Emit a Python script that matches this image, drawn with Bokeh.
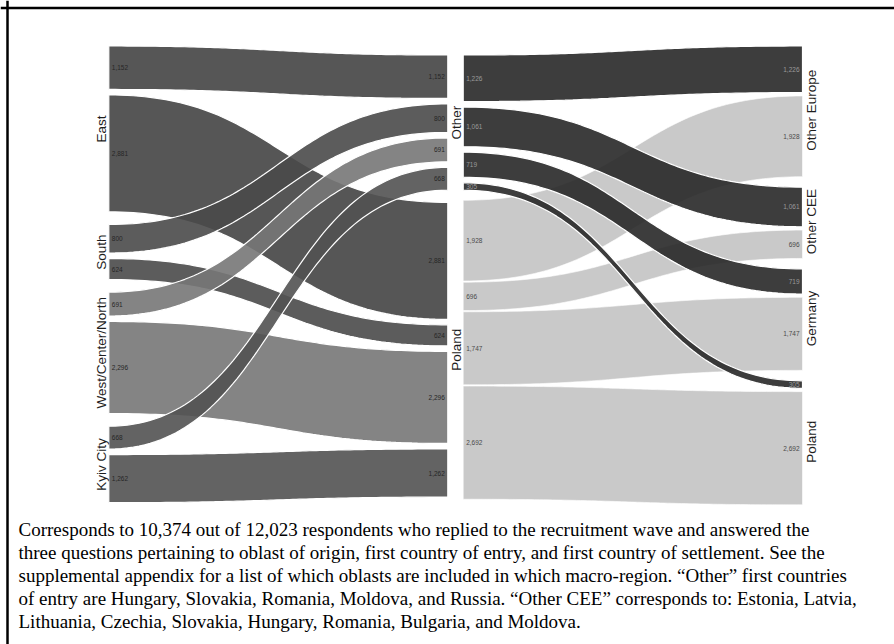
import numpy as np
from bokeh.plotting import figure
from bokeh.models import Range1d, Span
from bokeh.core.properties import value
from bokeh.embed import file_html
from bokeh.resources import INLINE

# ---------------- data ----------------
origins = ["East", "South", "West/Center/North", "Kyiv City"]
entries = ["Other", "Poland"]
origin_to_other = [1152, 800, 691, 668]
origin_to_poland = [2881, 624, 2296, 1262]

settlements = ["Other Europe", "Other CEE", "Germany", "Poland"]
other_to_settlement = [1226, 1061, 719, 305]
poland_to_settlement = [1928, 696, 1747, 2692]

caption_lines = [
    "Corresponds to 10,374 out of 12,023 respondents who replied to the recruitment wave and answered the",
    "three questions pertaining to oblast of origin, first country of entry, and first country of settlement. See the",
    "supplemental appendix for a list of which oblasts are included in which macro-region. \u201cOther\u201d first countries",
    "of entry are Hungary, Slovakia, Romania, Moldova, and Russia. \u201cOther CEE\u201d corresponds to: Estonia, Latvia,",
    "Lithuania, Czechia, Slovakia, Hungary, Romania, Bulgaria, and Moldova.",
]

# ---------------- styles ----------------
origin_colors = ["#444444", "#4a4a4a", "#777777", "#525252"]
entry_colors = {"Other": "#282828", "Poland": "#c3c3c3"}
ALPHA = 0.9
W, H = 894, 644
K = 0.0425           # px per respondent
INSET = 2.75
FONT = "Liberation Sans"


def stack(groups, top, gap):
    out = []
    y = top
    for g in groups:
        slots = []
        for v in g:
            slots.append((y, y + v * K))
            y += v * K
        out.append(slots)
        y += gap
    return out


def band(x0, x1, s0, s1, ins):
    t = np.linspace(0, 1, 80)
    xm = (x0 + x1) / 2
    bx = (1 - t) ** 3 * x0 + 3 * (1 - t) ** 2 * t * xm + 3 * (1 - t) * t ** 2 * xm + t ** 3 * x1
    def by(a, b):
        return (1 - t) ** 3 * a + 3 * (1 - t) ** 2 * t * a + 3 * (1 - t) * t ** 2 * b + t ** 3 * b
    top = by(s0[0] + ins, s1[0] + ins)
    bot = by(s0[1] - ins, s1[1] - ins)
    xs = list(bx) + list(bx[::-1])
    ys = list(top) + list(bot[::-1])
    return xs, ys


p = figure(width=W, height=H, output_backend="svg", toolbar_location=None,
           x_range=Range1d(0, W), y_range=Range1d(H, 0), min_border=0)
p.axis.visible = False
p.grid.visible = False
p.outline_line_color = None
p.background_fill_color = "white"

# frame lines (left, top)
p.add_layout(Span(location=7, dimension="height", line_color="black", line_width=2.5))
p.add_layout(Span(location=7.5, dimension="width", line_color="black", line_width=2.5))

# ---------------- left panel: origin -> first country of entry ----------------
LX0, LX1 = 108.3, 447.3
left_col = stack([[a, b] for a, b in zip(origin_to_other, origin_to_poland)], 42.75, 7.1)
mid_col = stack([origin_to_other, origin_to_poland], 51.75, 6.7)

for j, vals in reversed(list(enumerate([origin_to_other, origin_to_poland]))):
    xs_all, ys_all, cols = [], [], []
    labels_l = dict(x=[], y=[], t=[])
    labels_r = dict(x=[], y=[], t=[])
    for i in range(len(origins)):
        s0 = left_col[i][j]
        s1 = mid_col[j][i]
        xs, ys = band(LX0, LX1, s0, s1, INSET)
        xs_all.append(xs); ys_all.append(ys); cols.append(origin_colors[i])
        labels_l["x"].append(LX0 + 3); labels_l["y"].append((s0[0] + s0[1]) / 2)
        labels_l["t"].append(f"{vals[i]:,}")
        labels_r["x"].append(LX1 - 3); labels_r["y"].append((s1[0] + s1[1]) / 2)
        labels_r["t"].append(f"{vals[i]:,}")
    p.patches(xs_all, ys_all, fill_color=cols, fill_alpha=ALPHA, line_color="white",
              line_width=1.2)
    p.text(labels_l["x"], labels_l["y"], text=labels_l["t"], text_font=value(FONT),
           text_font_size="6.5px", text_color="#262626", text_align="left", text_baseline="middle")
    p.text(labels_r["x"], labels_r["y"], text=labels_r["t"], text_font=value(FONT),
           text_font_size="6.5px", text_color="#262626", text_align="right", text_baseline="middle")

# origin labels
oy = [(g[0][0] + g[-1][1]) / 2 for g in left_col]
p.text([101] * len(origins), oy, text=origins, angle=np.pi / 2, text_font=value(FONT),
       text_font_size="13.5px", text_color="#1e1e1e", text_align="center", text_baseline="middle")
# entry labels
ey = [(g[0][0] + g[-1][1]) / 2 for g in mid_col]
p.text([455.5] * len(entries), ey, text=entries, angle=np.pi / 2, text_font=value(FONT),
       text_font_size="13.5px", text_color="#1e1e1e", text_align="center", text_baseline="middle")

# ---------------- right panel: entry -> settlement ----------------
RX0, RX1 = 462.7, 802.0
rl_col = stack([other_to_settlement, poland_to_settlement], 51.75, 6.7)
rr_col = stack([[a, b] for a, b in zip(other_to_settlement, poland_to_settlement)], 42.75, 7.1)

for j, ent, vals in reversed(list(zip([0, 1], entries, [other_to_settlement, poland_to_settlement]))):
    xs_all, ys_all = [], []
    ll = dict(x=[], y=[], t=[])
    rr = dict(x=[], y=[], t=[])
    ins = INSET if ent == "Other" else 0.6
    for k in range(len(settlements)):
        s0 = rl_col[j][k]
        s1 = rr_col[k][j]
        xs, ys = band(RX0, RX1, s0, s1, ins)
        xs_all.append(xs); ys_all.append(ys)
        ll["x"].append(RX0 + 3); ll["y"].append((s0[0] + s0[1]) / 2); ll["t"].append(f"{vals[k]:,}")
        rr["x"].append(RX1 - 3); rr["y"].append((s1[0] + s1[1]) / 2); rr["t"].append(f"{vals[k]:,}")
    lw = 1.2 if ent == "Other" else 0.6
    p.patches(xs_all, ys_all, fill_color=entry_colors[ent], fill_alpha=ALPHA,
              line_color="white", line_width=lw)
    tc = "#9a9a9a" if ent == "Other" else "#4a4a4a"
    p.text(ll["x"], ll["y"], text=ll["t"], text_font=value(FONT), text_font_size="6.5px",
           text_color=tc, text_align="left", text_baseline="middle")
    p.text(rr["x"], rr["y"], text=rr["t"], text_font=value(FONT), text_font_size="6.5px",
           text_color=tc, text_align="right", text_baseline="middle")

sy = [(g[0][0] + g[-1][1]) / 2 for g in rr_col]
p.text([811] * len(settlements), sy, text=settlements, angle=np.pi / 2, text_font=value(FONT),
       text_font_size="13.5px", text_color="#1e1e1e", text_align="center", text_baseline="middle")

# ---------------- caption ----------------
cap_y = [529 + 23 * i for i in range(len(caption_lines))]
p.text([18] * len(caption_lines), cap_y, text=caption_lines, text_font=value("Liberation Serif"),
       text_font_size="19px", text_color="black", text_align="left", text_baseline="middle")

open("out.html", "w").write(file_html(p, INLINE))
